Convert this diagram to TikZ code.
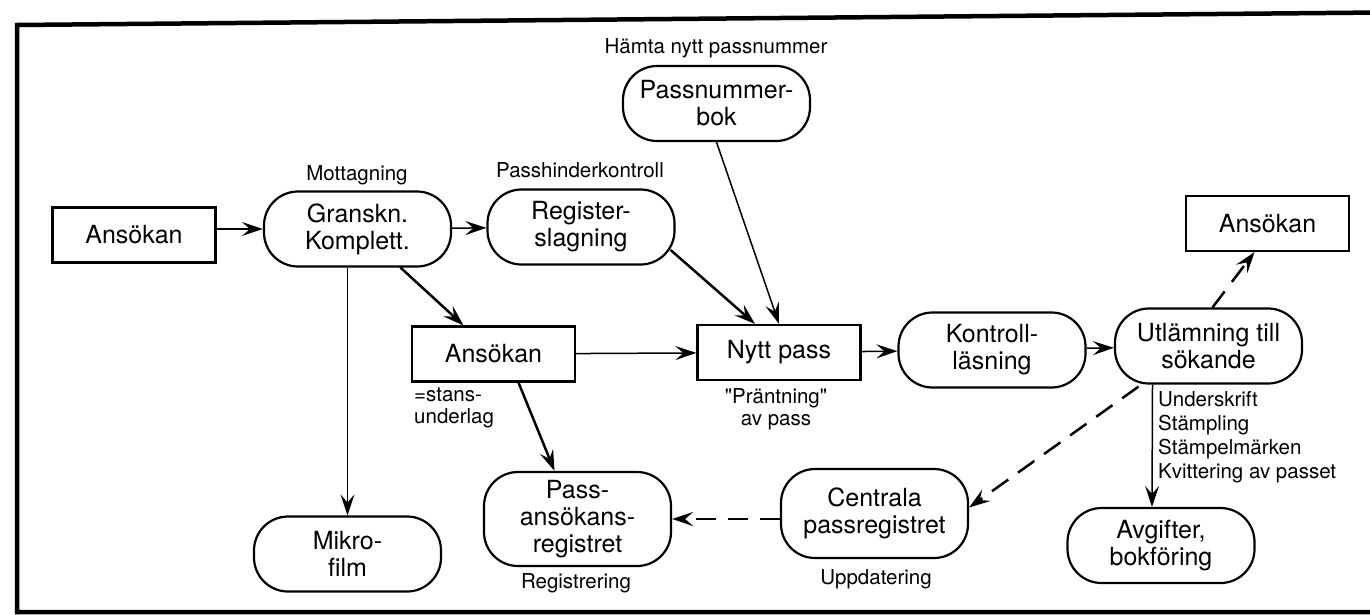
\documentclass[tikz,border=0pt]{standalone}
\usepackage{fontspec}
\setmainfont{TeX Gyre Heros}
\usetikzlibrary{arrows.meta,calc}

\begin{document}
\begin{tikzpicture}[x=1pt, y=-1pt, >={Stealth[length=21pt,width=14pt,inset=8pt]}]
  \tikzstyle{box} = [draw, rectangle, line width=2.2pt, minimum width=163pt, minimum height=55pt, font=\fontsize{25}{27}\selectfont]
  \tikzstyle{proc} = [draw, rectangle, rounded corners=34pt, line width=2.2pt, minimum width=187pt, minimum height=75pt, align=center, inner sep=2pt, font=\fontsize{25}{27}\selectfont]
  \tikzstyle{note} = [font=\fontsize{20.5}{22}\selectfont, align=left, inner sep=0pt]
  \tikzstyle{flow} = [->, line width=1.5pt]
  \tikzstyle{heavyflow} = [->, line width=2.5pt]
  \tikzstyle{dashflow} = [->, line width=2.5pt, dash pattern=on 20pt off 12pt]
  \useasboundingbox (0,0) rectangle (1370,614);
  \clip (0,0) rectangle (1370,614);
  % frame
  \draw[line width=4.5pt] (1380,12.5) -- (17,25) -- (17,612) -- (1380,612);

  \node[box] (ans1) at (134,235) {Ansökan};
  \node[proc] (gransk) at (357.5,229) {Granskn.\\Komplett.};
  \node[proc] (reg) at (581,227) {Register-\\slagning};
  \node[proc] (pnbok) at (716.5,103.5) {Passnummer-\\bok};
  \node[box] (ans2) at (493.5,354) {Ansökan};
  \node[box] (nytt) at (779,352.5) {Nytt pass};
  \node[proc] (kontroll) at (992,350) {Kontroll-\\läsning};
  \node[proc] (utl) at (1208.5,346) {Utlämning till\\sökande};
  \node[box] (ans3) at (1267.5,223.5) {Ansökan};
  \node[proc] (mikro) at (347.5,554) {Mikro-\\film};
  \node[proc, minimum height=94pt] (passans) at (577.5,519) {Pass-\\ansökans-\\registret};
  \node[proc, minimum height=89pt] (centrala) at (874.5,513.5) {Centrala\\passregistret};
  \node[proc] (avgift) at (1161,545.5) {Avgifter,\\bokföring};

  % labels
  \node[note] (hamta) at (716,48) {Hämta nytt passnummer};
  \node[note] (mottag) at (357,175) {Mottagning};
  \node[note] (hinder) at (580,170) {Passhinderkontroll};
  \node[note, anchor=north west] (stans) at (414,388) {=stans-\\underlag};
  \node[note, align=center] (prant) at (776,409) {\textquotedbl Präntning\textquotedbl\\av pass};
  \node[note, anchor=north west, font=\fontsize{20.5}{24}\selectfont] (moment) at (1158,391) {Underskrift\\Stämpling\\Stämpelmärken\\Kvittering av passet};
  \node[note] (registrering) at (576,583) {Registrering};
  \node[note] (uppd) at (876,579) {Uppdatering};

  \draw[flow] (ans1.east |- gransk.west) -- (gransk.west);
  \draw[flow] (gransk) -- (reg);
  \draw[heavyflow] ($(gransk.south)+(43,0)$) -- ($(ans2.north)+(-30,0)$);
  \draw[flow] (mikro.north |- gransk.south) -- (mikro.north);
  \draw[heavyflow] ($(reg.east)+(-5,23)$) -- ($(nytt.north)+(-24,0)$);
  \draw[flow] (pnbok.south) -- (nytt.north);
  \draw[flow] (ans2) -- (nytt);
  \draw[heavyflow] ($(ans2.south)+(25,0)$) -- ($(passans.north)+(-23,0)$);
  \draw[flow] (nytt) -- (kontroll);
  \draw[flow] (kontroll) -- (utl);
  \draw[dashflow] ($(utl.north)+(4,0)$) -- ($(ans3.south)+(-13,0)$);
  \draw[flow] ($(utl.south)+(-56,0)$) -- ($(avgift.north)+(-9,0)$);
  \draw[dashflow] ($(utl.south)+(-70,2)$) -- ($(centrala.east)+(0,-6)$);
  \draw[dashflow] (centrala.west |- passans.east) -- (passans.east);
\end{tikzpicture}
\end{document}
